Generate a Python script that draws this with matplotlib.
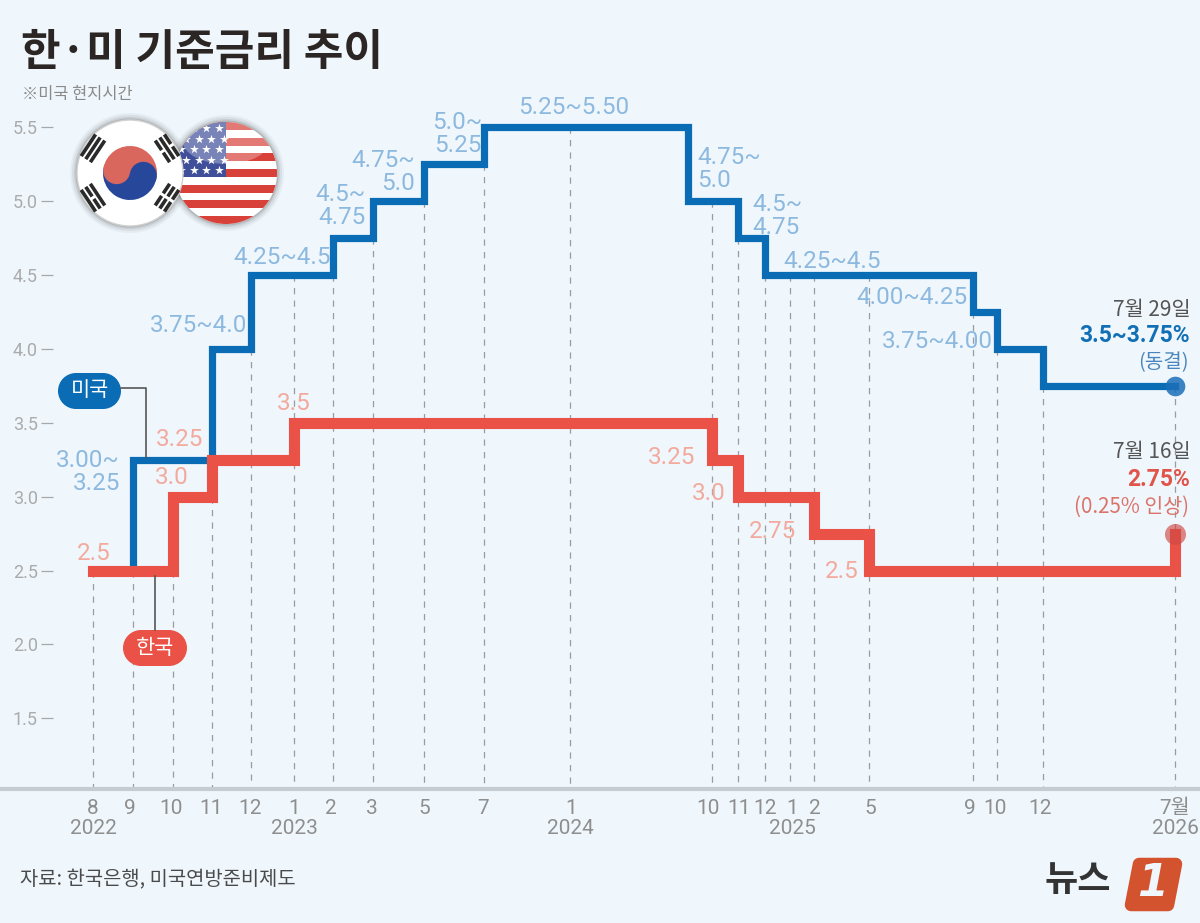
import numpy as np
import matplotlib
matplotlib.use('Agg')
import matplotlib.pyplot as plt
from matplotlib.patches import Circle, Wedge, Ellipse, Rectangle, Polygon

plt.rcParams['font.family'] = ['Noto Sans CJK KR', 'DejaVu Sans']
NUM_FONT = ['Roboto', 'Noto Sans CJK KR', 'DejaVu Sans']

BG = '#EFF7FD'
BLUE = '#0A6CB5'
RED = '#EB5247'
LBLUE = '#8DB9DF'
LRED = '#F3AA9E'

# months on the x axis, the scale is not linear so positions come from the picture
months = ['2022-08', '2022-09', '2022-10', '2022-11', '2022-12', '2023-01', '2023-02', '2023-03',
          '2023-05', '2023-07', '2024-01', '2024-09', '2024-10', '2024-11', '2024-12', '2025-01',
          '2025-02', '2025-05', '2025-09', '2025-10', '2025-12', '2026-07']
month_pos = [93, 133, 173, 212, 251, 294, 333, 373, 424, 484, 570, 688, 712, 738, 765, 790,
             814, 869, 973, 997, 1043, 1175]
pos = dict(zip(months, month_pos))

tick_months = [m for m in months if m != '2024-09']
tick_labels = ['8', '9', '10', '11', '12', '1', '2', '3', '5', '7', '1',
               '10', '11', '12', '1', '2', '5', '9', '10', '12', '7월']
label_pos = [93, 130, 171, 211, 250, 294, 331, 372, 424, 483, 571, 708, 739, 765, 792, 815,
             870, 970, 995, 1040, 1175]
years = ['2022', '2023', '2024', '2025', '2026']
year_pos = [93, 294, 570, 792, 1175]
# rate the dashed drop line starts from
drop_top = [2.5, 2.5, 2.5, 3.0, 4.0, 4.5, 4.5, 4.75, 5.0, 5.25, 5.5, 5.0, 4.75, 4.5, 4.5,
            4.5, 4.5, 4.25, 4.0, 3.75, 3.75]

us_dates = ['2022-09', '2022-09', '2022-11', '2022-12', '2023-02', '2023-03', '2023-05', '2023-07',
            '2024-09', '2024-11', '2024-12', '2025-09', '2025-10', '2025-12', '2026-07']
us_rates = [2.5, 3.25, 4.0, 4.5, 4.75, 5.0, 5.25, 5.5, 5.0, 4.75, 4.5, 4.25, 4.0, 3.75, 3.75]

kr_dates = ['2022-08', '2022-10', '2022-11', '2023-01', '2024-10', '2024-11', '2025-02', '2025-05',
            '2026-07', '2026-07']
kr_rates = [2.5, 3.0, 3.25, 3.5, 3.25, 3.0, 2.75, 2.5, 2.5, 2.75]

y_ticks = [1.5, 2.0, 2.5, 3.0, 3.5, 4.0, 4.5, 5.0, 5.5]

us_notes = ['5.25~5.50', '5.0~\n5.25', '4.75~\n5.0', '4.5~\n4.75', '4.25~4.5', '3.75~4.0',
            '3.00~\n3.25', '4.75~\n5.0', '4.5~\n4.75', '4.25~4.5', '4.00~4.25', '3.75~4.00']
kr_notes = ['2.5', '3.25', '3.0', '3.5', '3.25', '3.0', '2.75', '2.5']


def val(py):
    return 2.5 + (570.5 - py) / 147.9


fig = plt.figure(figsize=(12, 9.23), dpi=100, facecolor=BG)
ax = fig.add_axes([0, 0, 1, 1], facecolor='none')
ax.set_xlim(0, 1200)
ax.set_ylim(val(923), val(0))

base = val(789)
for s in ['top', 'right', 'left']:
    ax.spines[s].set_visible(False)
ax.spines['left'].set_position(('data', 53))
ax.spines['bottom'].set_position(('data', base))
ax.spines['bottom'].set_color('#C6CDD2')
ax.spines['bottom'].set_linewidth(3)

ax.set_yticks(y_ticks)
ax.set_yticklabels(['%.1f' % v for v in y_ticks], family=NUM_FONT, fontsize=13, color='#ABABAB')
ax.tick_params(axis='y', direction='out', length=9, width=0.9, color='#A8A8A8', pad=2)
ax.set_xticks(label_pos)
ax.set_xticklabels(tick_labels, family=NUM_FONT, fontsize=15, color='#8E8E8E')
ax.tick_params(axis='x', length=0, pad=7)
for y, x in zip(years, year_pos):
    ax.text(x, val(829), y, family=NUM_FONT, fontsize=15, color='#8E8E8E', ha='center', va='center')

for m, top in zip(tick_months, drop_top):
    ax.plot([pos[m], pos[m]], [top, base], color='#9C9C9C', lw=0.9, dashes=(5, 5), zorder=1)

ax.plot([pos[d] for d in us_dates], us_rates, drawstyle='steps-post', color=BLUE, lw=5.2,
        solid_joinstyle='miter', solid_capstyle='projecting', zorder=3)
ax.plot([pos[d] for d in kr_dates], kr_rates, drawstyle='steps-post', color=RED, lw=8,
        solid_joinstyle='miter', solid_capstyle='projecting', zorder=4)
ax.scatter([pos['2026-07']], [us_rates[-1]], s=200, color='#1B6FB8', alpha=0.85, lw=0, zorder=5)
ax.scatter([pos['2026-07']], [kr_rates[-1]], s=230, color='#CF4A45', alpha=0.65, lw=0, zorder=5)

# overlay in pixel units for notes, pills, flags and the logo
deco = fig.add_axes([0, 0, 1, 1], facecolor='none')
deco.set_xlim(0, 1200)
deco.set_ylim(923, 0)
deco.axis('off')

us_note_xy = [(574, 108, 'center'), (482, 134, 'right'), (415, 172, 'right'), (366, 206, 'right'),
              (282, 257, 'center'), (199, 326, 'center'), (120, 472, 'right'), (697, 169, 'left'),
              (752, 216, 'left'), (832, 261, 'center'), (912, 298, 'center'), (937, 342, 'center')]
for t, (x, y, ha) in zip(us_notes, us_note_xy):
    deco.text(x, y, t, color=LBLUE, family=NUM_FONT, fontsize=17.5, ha=ha, va='center',
              multialignment=ha, linespacing=1.0)
kr_note_xy = [(94, 553), (180, 440), (172, 477), (294, 404), (672, 457), (709, 494), (773, 531), (842, 572)]
for t, (x, y) in zip(kr_notes, kr_note_xy):
    deco.text(x, y, t, color=LRED, family=NUM_FONT, fontsize=17.5, ha='center', va='center')

# legend pills
deco.plot([121, 146, 146], [388, 388, 458], color='#555555', lw=1.2, zorder=2)
deco.plot([155, 155], [576, 630], color='#555555', lw=1.2, zorder=2)
deco.add_patch(Rectangle((76, 373), 27, 36, fc=BLUE, lw=0))
deco.add_patch(Circle((76, 391), 18, fc=BLUE, lw=0))
deco.add_patch(Circle((103, 391), 18, fc=BLUE, lw=0))
deco.add_patch(Rectangle((141, 630), 28, 36, fc=RED, lw=0))
deco.add_patch(Circle((141, 648), 18, fc=RED, lw=0))
deco.add_patch(Circle((169, 648), 18, fc=RED, lw=0))
deco.text(90, 390, '미국', color='white', fontsize=15, ha='center', va='center')
deco.text(155, 648, '한국', color='white', fontsize=15, ha='center', va='center')

# right hand notes
deco.text(1191, 310, '7월 29일', color='#555555', fontsize=15, ha='right', va='center')
deco.text(1190, 335, '3.5~3.75%', color='#1170B5', family=NUM_FONT, fontsize=16.5, weight='bold', ha='right', va='center')
deco.text(1189, 363, '(동결)', color='#4A86BC', fontsize=14.5, ha='right', va='center')
deco.text(1191, 452, '7월 16일', color='#555555', fontsize=15, ha='right', va='center')
deco.text(1190, 479, '2.75%', color='#E0544A', family=NUM_FONT, fontsize=16.5, weight='bold', ha='right', va='center')
deco.text(1189, 507, '(0.25% 인상)', color='#DB7368', fontsize=14.8, ha='right', va='center')

# title and footer
deco.text(21, 52, '한·미 기준금리 추이', color='#2B2523', fontsize=31, weight='bold', ha='left', va='center')
deco.text(22, 94, '※미국 현지시간', color='#8A8A8A', fontsize=11.8, ha='left', va='center')
deco.text(20, 880, '자료: 한국은행, 미국연방준비제도', color='#4A4A4A', fontsize=14.3, ha='left', va='center')


def shadow(x, y, r):
    for k, a in [(7, 0.05), (5, 0.07), (3, 0.10), (1.5, 0.15)]:
        deco.add_patch(Circle((x, y), r + k, fc='#333333', alpha=a, lw=0, zorder=6))


# US flag
ux, uy, ur = 226, 173, 51
shadow(ux, uy, ur)
disc = Circle((ux, uy), ur, fc='white', lw=0, zorder=7)
deco.add_patch(disc)
sh = 2 * ur / 13
for i in range(0, 13, 2):
    r = Rectangle((ux - ur, uy - ur + i * sh), 2 * ur, sh, fc='#D8403A', lw=0, zorder=7)
    deco.add_patch(r)
    r.set_clip_path(disc)
r = Rectangle((ux - ur, uy - ur), ur, 7 * sh, fc='#3F4F9A', lw=0, zorder=7)
deco.add_patch(r)
r.set_clip_path(disc)
sx, sy = [], []
for row in range(5):
    for col in range(4):
        sx.append(ux - ur + 6 + col * 12.5 + (row % 2) * 5)
        sy.append(uy - ur + 6 + row * 10.5)
st = deco.scatter(sx, sy, marker='*', s=45, c='white', lw=0, zorder=7.2)
st.set_clip_path(disc)
gl = Ellipse((ux, uy - 32), 1.7 * ur, 0.9 * ur, fc='white', alpha=0.3, lw=0, zorder=7.3)
deco.add_patch(gl)
gl.set_clip_path(disc)

# Korean flag
kx, ky, kr_ = 130, 173, 53
shadow(kx, ky, kr_)
deco.add_patch(Circle((kx, ky), kr_, fc='white', ec='#D0D0D0', lw=1, zorder=8))
tilt = 10
rt = 27
deco.add_patch(Wedge((kx, ky), rt, 180 + tilt, 360 + tilt, fc='#D9675E', lw=0, zorder=8.1))
deco.add_patch(Wedge((kx, ky), rt, tilt, 180 + tilt, fc='#27479B', lw=0, zorder=8.1))
a = np.radians(tilt)
ox, oy = rt / 2 * np.cos(a), rt / 2 * np.sin(a)
deco.add_patch(Circle((kx - ox, ky - oy), rt / 2, fc='#D9675E', lw=0, zorder=8.2))
deco.add_patch(Circle((kx + ox, ky + oy), rt / 2, fc='#27479B', lw=0, zorder=8.2))
tri = {(-3, -2): [0, 0, 0], (3, -2): [1, 0, 1], (-3, 2): [0, 1, 0], (3, 2): [1, 1, 1]}
for (dx, dy), broken in tri.items():
    n = np.array([dx, dy]) / np.hypot(dx, dy)
    p = np.array([-n[1], n[0]])
    for i, b in enumerate(broken):
        c = np.array([kx, ky]) + n * (39 + i * 5.5)
        if b:
            for s1, s2 in [(-13, -1.5), (1.5, 13)]:
                deco.plot([c[0] + p[0] * s1, c[0] + p[0] * s2], [c[1] + p[1] * s1, c[1] + p[1] * s2],
                          color='#2A2A2A', lw=2.6, solid_capstyle='butt', zorder=8.2)
        else:
            deco.plot([c[0] - p[0] * 13, c[0] + p[0] * 13], [c[1] - p[1] * 13, c[1] + p[1] * 13],
                      color='#2A2A2A', lw=2.6, solid_capstyle='butt', zorder=8.2)

# logo
deco.text(1078, 881, '뉴스', color='#333333', fontsize=26, weight='black', ha='center', va='center')
deco.add_patch(Polygon([(1139, 864), (1176, 864), (1168, 905), (1131, 905)], closed=True, fc='#D4532F',
                       ec='#D4532F', lw=9, joinstyle='round'))
deco.text(1153, 884, '1', color=BG, family=['DejaVu Sans'], fontsize=32, weight='bold', style='italic',
          ha='center', va='center')

fig.savefig('out.png', dpi=100, facecolor=BG)
